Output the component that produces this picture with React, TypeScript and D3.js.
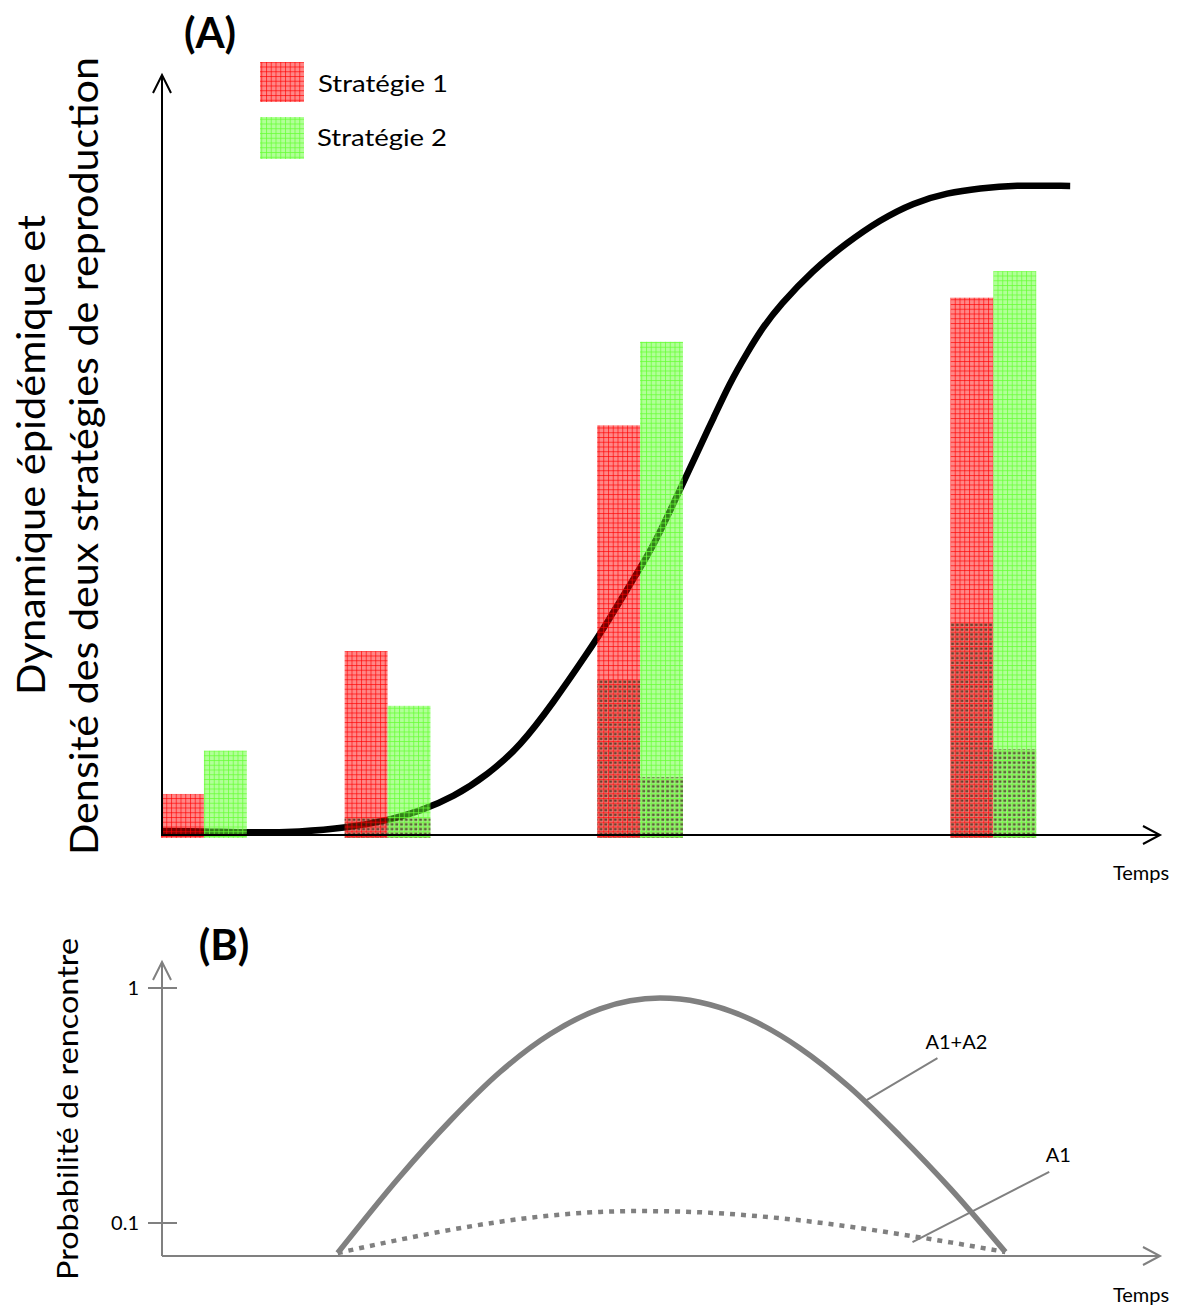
import React from 'react';
import * as d3 from 'd3';

// ---------- Panel A data ----------
const groupTimes = [4.2, 22.6, 47.9, 83.3];
const strategy1 = [5.4, 24.2, 53.9, 70.7];
const strategy2 = [11.1, 17.0, 64.9, 74.2];
const strategy1Dark = [0, 2.2, 20.4, 27.9];
const strategy2Dark = [0, 2.2, 7.6, 11.3];
const epidemicTime = [0, 4.2, 8.8, 13.8, 18.5, 22.8, 25.9, 29.2, 32.6, 35.9, 39.2, 42.6, 44.6, 47.6, 49.2, 51.9, 53.9, 55.2, 56.9, 58.6, 60.2, 61.9, 65.2, 68.6, 71.9, 75.3, 78.7, 82.0, 85.3, 91.0];
const epidemicValue = [0.53, 0.5, 0.3, 0.4, 0.92, 1.97, 3.16, 5.0, 7.89, 11.7, 17.4, 23.9, 27.9, 34.5, 37.9, 45.4, 51.1, 54.7, 59.5, 63.4, 66.8, 69.7, 74.3, 77.9, 80.9, 83.2, 84.5, 85.1, 85.5, 85.4];
const legendLabels = ['Stratégie 1', 'Stratégie 2'];

// ---------- Panel B data ----------
const a1a2Time = [17.6, 23.8, 28.9, 33.9, 38.9, 43.9, 49.9, 53.9, 58.9, 63.9, 68.9, 73.9, 79.0, 84.5];
const a1a2Prob = [0.0745, 0.157, 0.273, 0.44, 0.637, 0.815, 0.906, 0.87, 0.738, 0.556, 0.378, 0.236, 0.14, 0.0753];
const a1Time = [17.6, 23.8, 28.9, 33.9, 38.9, 43.9, 47.9, 53.9, 58.9, 63.9, 68.9, 73.9, 79.0, 84.5];
const a1Prob = [0.0745, 0.0849, 0.0935, 0.1013, 0.1076, 0.1115, 0.1124, 0.1111, 0.1076, 0.1027, 0.0965, 0.0897, 0.0827, 0.0753];
const probTicks = [1, 0.1];
const probTickLabels = ['1', '0.1'];

const W = 1183;
const H = 1307;
const FONT = 'Lato, "Open Sans", sans-serif';

export default function App() {
  const x = d3.scaleLinear().domain([0, 100]).range([162, 1160]);
  const yA = d3.scaleLinear().domain([0, 100]).range([835, 75]);
  const yB = d3.scaleLog().domain([0.1, 1]).range([1223, 988]);
  const baseB = 1256;
  const topB = 962;
  const barW = x(4.3) - x(0);

  const epiLine = d3
    .line<number>()
    .x((_, i) => x(epidemicTime[i]))
    .y((d) => yA(d))
    .curve(d3.curveBasis);

  const lineB = (times: number[]) =>
    d3
      .line<number>()
      .x((_, i) => x(times[i]))
      .y((d) => yB(d))
      .curve(d3.curveMonotoneX);

  const x0 = x(0);
  const xEnd = x(100);
  const yA0 = yA(0);
  const yATop = yA(100);

  const arrowUp = (cx: number, cy: number) => `M${cx - 9},${cy + 18} L${cx},${cy} L${cx + 9},${cy + 18}`;
  const arrowRight = (cx: number, cy: number) => `M${cx - 17},${cy - 9} L${cx},${cy} L${cx - 17},${cy + 9}`;

  const bars: { x: number; top: number; darkTop: number; kind: 'r' | 'g'; dark: number }[] = [];
  groupTimes.forEach((t, i) => {
    bars.push({ x: x(t) - barW, top: yA(strategy1[i]), darkTop: yA(strategy1Dark[i]), kind: 'r', dark: strategy1Dark[i] });
    bars.push({ x: x(t), top: yA(strategy2[i]), darkTop: yA(strategy2Dark[i]), kind: 'g', dark: strategy2Dark[i] });
  });

  const gray = '#808080';

  return (
    <svg width={W} height={H} style={{ position: 'absolute', left: 0, top: 0, background: '#fff' }} fontFamily={FONT}>
      <defs>
        <pattern id="gridRed" patternUnits="userSpaceOnUse" width={4.75} height={4.75}>
          <rect width={4.75} height={4.75} fill="rgba(255,0,0,0.47)" />
          <rect width={4.75} height={1} fill="rgba(255,0,0,0.65)" />
          <rect width={1} height={4.75} fill="rgba(255,0,0,0.65)" />
        </pattern>
        <pattern id="gridGreen" patternUnits="userSpaceOnUse" width={4.75} height={4.75}>
          <rect width={4.75} height={4.75} fill="rgba(102,255,51,0.5)" />
          <rect width={4.75} height={1} fill="rgba(102,255,51,0.75)" />
          <rect width={1} height={4.75} fill="rgba(102,255,51,0.75)" />
        </pattern>
        <pattern id="darkDots" patternUnits="userSpaceOnUse" width={4.75} height={4.75}>
          <rect x={1} y={1} width={3.2} height={3.2} fill="rgba(90,60,15,0.5)" />
          <rect x={1.4} y={2.2} width={2.4} height={1.1} fill="rgba(0,0,0,0.6)" />
        </pattern>
      </defs>

      {/* ---------- Panel A ---------- */}
      <path d={epiLine(epidemicValue) ?? ''} fill="none" stroke="#000" strokeWidth={6.5} />

      {bars.map((b, i) => (
        <g key={i}>
          <rect x={b.x} y={b.top} width={barW} height={yA0 + 3 - b.top} fill={b.kind === 'r' ? 'url(#gridRed)' : 'url(#gridGreen)'} />
          {b.dark > 0 && (
            <rect x={b.x} y={b.darkTop} width={barW} height={yA0 + 3 - b.darkTop} fill="url(#darkDots)" />
          )}
        </g>
      ))}

      <line x1={x0} y1={yA0 + 1} x2={x0} y2={yATop} stroke="#000" strokeWidth={2} />
      <path d={arrowUp(x0, yATop)} fill="none" stroke="#000" strokeWidth={2} />
      <line x1={x0} y1={yA0} x2={xEnd} y2={yA0} stroke="#000" strokeWidth={2} />
      <path d={arrowRight(xEnd, yA0)} fill="none" stroke="#000" strokeWidth={2} />

      <text x={1141} y={880} textAnchor="middle" fontSize={20}>Temps</text>

      <text x={210} y={48} textAnchor="middle" fontSize={42} fontWeight="bold">(A)</text>

      {legendLabels.map((lab, i) => (
        <g key={lab}>
          <rect x={260} y={i === 0 ? 62 : 117} width={44} height={i === 0 ? 40 : 42} fill={i === 0 ? 'url(#gridRed)' : 'url(#gridGreen)'} />
          <text x={318 - i} y={i === 0 ? 92 : 146} fontSize={24} textLength={130} lengthAdjust="spacingAndGlyphs">{lab}</text>
        </g>
      ))}

      <text transform="translate(45,455) rotate(-90)" textAnchor="middle" fontSize={38} textLength={480} lengthAdjust="spacingAndGlyphs">
        Dynamique épidémique et
      </text>
      <text transform="translate(98,456) rotate(-90)" textAnchor="middle" fontSize={38} textLength={798} lengthAdjust="spacingAndGlyphs">
        Densité des deux stratégies de reproduction
      </text>

      {/* ---------- Panel B ---------- */}
      <text x={224} y={960} textAnchor="middle" fontSize={42} fontWeight="bold">(B)</text>

      <line x1={x0} y1={baseB} x2={x0} y2={topB} stroke={gray} strokeWidth={2} />
      <path d={arrowUp(x0, topB)} fill="none" stroke={gray} strokeWidth={2} />
      <line x1={x0} y1={baseB} x2={xEnd} y2={baseB} stroke={gray} strokeWidth={2} />
      <path d={arrowRight(xEnd, baseB)} fill="none" stroke={gray} strokeWidth={2} />

      {probTicks.map((t, i) => (
        <g key={t}>
          <line x1={148} x2={177} y1={yB(t)} y2={yB(t)} stroke={gray} strokeWidth={2} />
          <text x={139} y={yB(t)} dy="0.35em" textAnchor="end" fontSize={20}>{probTickLabels[i]}</text>
        </g>
      ))}

      <path d={lineB(a1a2Time)(a1a2Prob) ?? ''} fill="none" stroke={gray} strokeWidth={5.5} />
      <path d={lineB(a1Time)(a1Prob) ?? ''} fill="none" stroke={gray} strokeWidth={4.5} strokeDasharray="5,6" />

      <line x1={x(77.7)} y1={yB(0.503)} x2={x(70.6)} y2={yB(0.333)} stroke={gray} strokeWidth={2} />
      <text x={x(79.6)} y={1049} textAnchor="middle" fontSize={20}>A1+A2</text>
      <line x1={x(88.9)} y1={yB(0.165)} x2={x(75.2)} y2={yB(0.083)} stroke={gray} strokeWidth={2} />
      <text x={x(89.8)} y={1162} textAnchor="middle" fontSize={20}>A1</text>

      <text x={1141} y={1302} textAnchor="middle" fontSize={20}>Temps</text>

      <text transform="translate(78,1109) rotate(-90)" textAnchor="middle" fontSize={28} textLength={342} lengthAdjust="spacingAndGlyphs">
        Probabilité de rencontre
      </text>
    </svg>
  );
}
